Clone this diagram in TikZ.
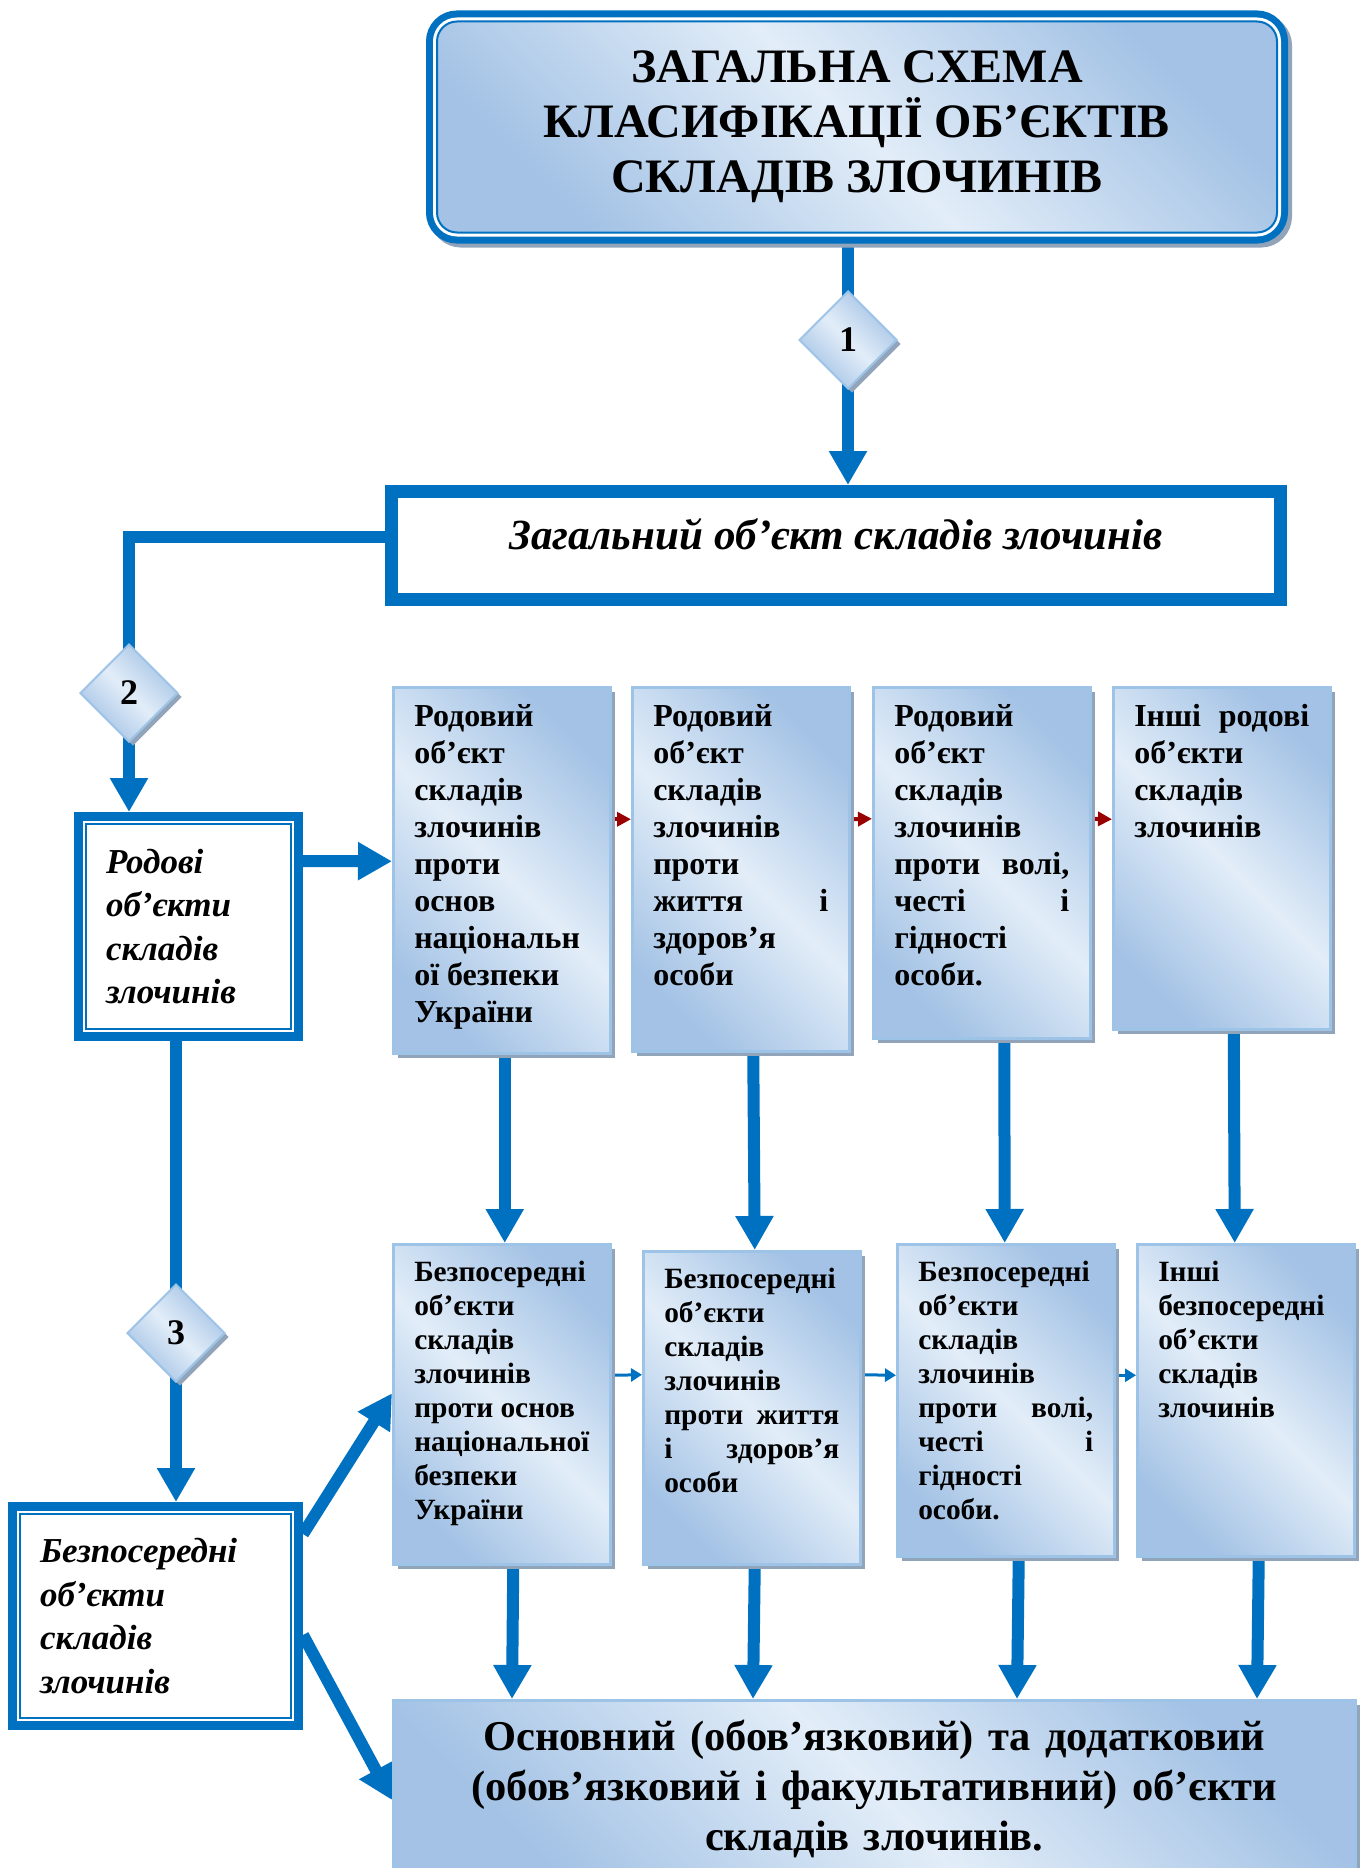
\documentclass[tikz,border=0pt]{standalone}
\usepackage{fontspec}
\setmainfont{Liberation Serif}
\usepackage{tikz}
\usetikzlibrary{arrows.meta,shapes.geometric,shadows,backgrounds}

\definecolor{mainblue}{HTML}{0070C0}
\definecolor{edgeblue}{HTML}{9DC3E6}
\definecolor{shdark}{HTML}{A3C2E5}
\definecolor{shlight}{HTML}{E2EDF8}
\definecolor{shadowgray}{HTML}{91A4BA}
\definecolor{darkred}{HTML}{990000}

\begin{document}
\begin{tikzpicture}[x=1pt,y=-1pt,
  bluefill/.style={top color=shdark,bottom color=shdark,middle color=shlight,shading angle=-45},
  catbox/.style={rectangle,bluefill,draw=edgeblue,line width=2.5pt,inner xsep=21pt,inner ysep=17pt,
    drop shadow={shadow xshift=5pt,shadow yshift=-5pt,fill=shadowgray,opacity=1}},
  topbox/.style={catbox,anchor=north west,font=\fontsize{32pt}{37pt}\selectfont\bfseries},
  lowbox/.style={catbox,anchor=north west,font=\fontsize{29.4pt}{34pt}\selectfont\bfseries},
  bigbox/.style={catbox,anchor=north west,inner xsep=10pt,inner ysep=20pt,text width=942pt,align=center,
    font=\fontsize{42.5pt}{50pt}\selectfont\bfseries},
  headbox/.style={rectangle,rounded corners=20pt,bluefill,draw=mainblue,line width=2pt,
    preaction={draw=shadowgray,line width=22pt,transform canvas={shift={(4pt,-4pt)}}},
    preaction={draw=mainblue,line width=22pt},
    preaction={draw=white,line width=8pt},
    minimum width=840pt,minimum height=211pt,inner sep=0pt,align=center,
    font=\fontsize{48pt}{55pt}\selectfont\bfseries},
  genbox/.style={rectangle,draw=mainblue,line width=13pt,fill=white,inner sep=0pt,
    minimum width=889pt,minimum height=108pt,text height=25.5pt,text depth=18.5pt,
    font=\fontsize{43pt}{50pt}\selectfont\bfseries\itshape},
  dblbox/.style={rectangle,draw=mainblue,line width=2pt,fill=white,outer sep=12pt,inner sep=0pt,
    preaction={draw=mainblue,line width=24pt},
    preaction={draw=white,line width=6pt},
    align=left,font=\fontsize{35pt}{43.5pt}\selectfont\bfseries\itshape},
  numdia/.style={diamond,bluefill,draw=edgeblue,line width=2pt,minimum width=98pt,minimum height=98pt,
    inner sep=0pt,font=\fontsize{36pt}{40pt}\selectfont\bfseries,
    drop shadow={shadow xshift=4pt,shadow yshift=-4pt,fill=shadowgray,opacity=1}},
  bigarrow/.style={draw=mainblue,line width=12pt,-{Triangle[width=36pt,length=34pt]}},
  redarrow/.style={draw=darkred,line width=4pt,-{Triangle[width=14pt,length=14pt]}},
  bluearrow/.style={draw=mainblue,line width=3pt,-{Triangle[width=13pt,length=11pt]}}]
\useasboundingbox (0,0) rectangle (1360,1868);

% header and general object
\node[headbox] (title) at (857,127) {ЗАГАЛЬНА СХЕМА\\КЛАСИФІКАЦІЇ ОБ’ЄКТІВ\\СКЛАДІВ ЗЛОЧИНІВ};
\node[genbox] (gen) at (836,545.5) {Загальний об’єкт складів злочинів};
\node[numdia] (dia1) at (848,340) {1};
\node[numdia] (dia2) at (129,693) {2};
\node[numdia] (dia3) at (176,1333) {3};

% left column
\node[dblbox,minimum width=205pt,minimum height=205pt,text width=165pt] (rodovi) at (188.5,926.5)
  {Родові\\об’єкти\\складів\\злочинів\par\vspace{8pt}};
\node[dblbox,minimum width=271pt,minimum height=204pt,text width=231pt] (bezp) at (155.5,1616)
  {Безпосередні\\об’єкти\\складів\\злочинів\par\vspace{6pt}};

% generic objects
\node[topbox] (rod1) at (392,686) {\parbox[c][332pt][t]{175pt}{Родовий\\об’єкт\\складів\\злочинів\\проти\\основ\\національн\\ої безпеки\\України}};
\node[topbox] (rod2) at (631,686) {\parbox[c][330pt][t]{175pt}{Родовий\\об’єкт\\складів\\злочинів\\проти\\життя \hfill і\\здоров’я\\особи}};
\node[topbox] (rod3) at (872,686) {\parbox[c][317pt][t]{175pt}{Родовий\\об’єкт\\складів\\злочинів\\проти \hfill волі,\\честі \hfill і\\гідності\\особи.}};
\node[topbox] (rod4) at (1112,686) {\parbox[c][308pt][t]{175pt}{Інші \hfill родові\\об’єкти\\складів\\злочинів}};

% direct objects
\node[lowbox] (bez1) at (392,1243) {\parbox[c][286pt][t]{175pt}{Безпосередні\\об’єкти\\складів\\злочинів\\проти основ\\національної\\безпеки\\України}};
\node[lowbox] (bez2) at (642,1250) {\parbox[c][279pt][t]{175pt}{Безпосередні\\об’єкти\\складів\\злочинів\\проти \hfill життя\\і \hfill здоров’я\\особи}};
\node[lowbox] (bez3) at (896,1243) {\parbox[c][278pt][t]{175pt}{Безпосередні\\об’єкти\\складів\\злочинів\\проти \hfill волі,\\честі \hfill і\\гідності\\особи.}};
\node[lowbox] (bez4) at (1136,1243) {\parbox[c][278pt][t]{175pt}{Інші\\безпосередні\\об’єкти\\складів\\злочинів}};

\node[bigbox] (big) at (392,1699) {Основний (обов’язковий) та додатковий\\(обов’язковий і факультативний) об’єкти\\складів злочинів.};

\begin{scope}[on background layer]
\draw[bigarrow] (title.south -| dia1) -- (gen.north -| dia1);
\draw[bigarrow] ([yshift=8.5pt]gen.west) -| (rodovi.north -| dia2);
\draw[bigarrow] ([yshift=65.5pt]rodovi.east) -- ([yshift=9pt]rod1.west);
\draw[bigarrow] (rodovi.south -| dia3) -- (bezp.north -| dia3);
\draw[bigarrow] ([yshift=82pt]bezp.east) -- ([yshift=11pt]bez1.west);
\draw[bigarrow] ([yshift=-19pt]bezp.east) -- ([yshift=-101pt]big.north west);
% generic to direct
\draw[bigarrow] ([xshift=3pt]rod1.south) -- ([xshift=3pt]bez1.north);
\draw[bigarrow] ([xshift=12.5pt]rod2.south) -- ([xshift=3pt]bez2.north);
\draw[bigarrow] ([xshift=22.5pt]rod3.south) -- ([xshift=-1pt]bez3.north);
\draw[bigarrow] ([xshift=12pt]rod4.south) -- ([xshift=-11pt]bez4.north);
% direct to main and additional
\draw[bigarrow] ([xshift=11.5pt]bez1.south) -- ([xshift=120pt]big.north west);
\draw[bigarrow] ([xshift=3pt]bez2.south) -- ([xshift=361pt]big.north west);
\draw[bigarrow] ([xshift=13pt]bez3.south) -- ([xshift=625pt]big.north west);
\draw[bigarrow] ([xshift=13pt]bez4.south) -- ([xshift=865pt]big.north west);
% small links
\draw[redarrow] ([yshift=51pt]rod1.east) -- ([yshift=50pt]rod2.west);
\draw[redarrow] ([yshift=50pt]rod2.east) -- ([yshift=44pt]rod3.west);
\draw[redarrow] ([yshift=44pt]rod3.east) -- ([yshift=39pt]rod4.west);
\draw[bluearrow] ([yshift=29pt]bez1.east) -- ([yshift=33pt]bez2.west);
\draw[bluearrow] ([yshift=33pt]bez2.east) -- ([yshift=25pt]bez3.west);
\draw[bluearrow] ([yshift=25pt]bez3.east) -- ([yshift=25pt]bez4.west);
\end{scope}
\end{tikzpicture}
\end{document}
